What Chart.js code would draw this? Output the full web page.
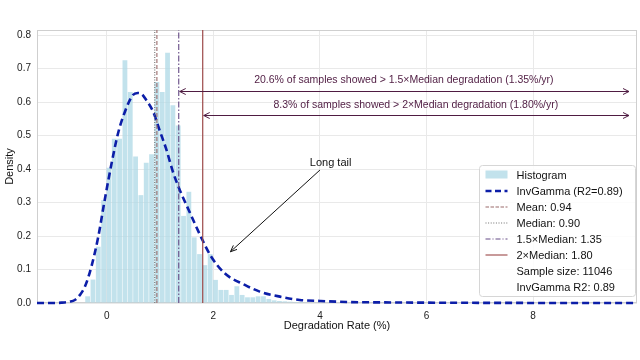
<!DOCTYPE html>
<html><head><meta charset="utf-8">
<script src="https://cdn.jsdelivr.net/npm/chart.js@4.4.0/dist/chart.umd.min.js"></script>
<style>html,body{margin:0;padding:0;background:#fff;}</style>
</head><body>
<canvas id="c" width="640" height="360"></canvas>
<script>
// ---- data ----
const binCenters = [-0.36,-0.26,-0.16,-0.06,0.04,0.14,0.24,0.34,0.44,0.54,0.64,0.74,0.84,0.94,1.04,1.14,1.24,1.34,1.44,1.54,1.64,1.74,1.84,1.94,2.04,2.14,2.24,2.34,2.44,2.54,2.64,2.74,2.84,2.94,3.04,3.14,3.24,3.34,3.44,3.54,3.64,3.74,3.84,3.94];
const density = [0.02,0.07,0.168,0.307,0.404,0.49,0.49,0.725,0.63,0.437,0.322,0.419,0.444,0.66,0.63,0.747,0.59,0.53,0.26,0.332,0.196,0.146,0.113,0.146,0.069,0.039,0.039,0.024,0.05,0.024,0.017,0.017,0.02,0.02,0.012,0.008,0.006,0.005,0.004,0.003,0.003,0.002,0.002,0.001];
const curveX = [-1.31,-1.0,-0.85,-0.7,-0.6,-0.5,-0.41,-0.29,-0.16,-0.04,0.09,0.21,0.34,0.49,0.58,0.66,0.74,0.87,0.99,1.12,1.24,1.37,1.53,1.78,1.96,2.21,2.59,2.87,3.25,3.62,4.0,4.5,5.0,6.0,7.0,8.0,9.95];
const curveY = [0,0,0.001,0.004,0.009,0.025,0.049,0.108,0.198,0.307,0.417,0.506,0.571,0.621,0.627,0.623,0.606,0.571,0.516,0.457,0.392,0.337,0.28,0.193,0.138,0.089,0.054,0.034,0.019,0.009,0.006,0.003,0.002,0.001,0.0005,0.0002,0];
const meanVal = 0.94, medianVal = 0.90, med15Val = 1.35, med2Val = 1.80;
const xTicks = [0,2,4,6,8];
const yTicks = [0,0.1,0.2,0.3,0.4,0.5,0.6,0.7,0.8];
const xRange = [-1.31, 9.95];
const yRange = [0, 0.815];
const arrowEndX = 9.8;
const arrow1Y = 0.634, arrow2Y = 0.561;
const text1Y = 0.666, text2Y = 0.592;
const annot1 = '20.6% of samples showed > 1.5×Median degradation (1.35%/yr)';
const annot2 = '8.3% of samples showed > 2×Median degradation (1.80%/yr)';
const tailText = 'Long tail';
const tailTextPos = [3.81, 0.418];
const tailFrom = [4.0, 0.397];
const tailTo = [2.32, 0.153];
const legendLabels = ['Histogram','InvGamma (R2=0.89)','Mean: 0.94','Median: 0.90','1.5×Median: 1.35','2×Median: 1.80','Sample size: 11046','InvGamma R2: 0.89'];

const FONT = 'Liberation Sans, Arial, sans-serif';
const barColor = 'rgba(173,216,230,0.75)';
const curveColor = '#0c1ea8';
const meanColor = '#9a6a6a';
const medianColor = '#707070';
const m15Color = '#654a85';
const m2Color = '#9c4848';
const annColor = '#4f1c42';

function vline(x, color, dash, label, width) {
  return {type:'line', label, data:[{x, y:0},{x, y:2}], borderColor:color, borderWidth:width||1.1,
          borderDash:dash, pointRadius:0, order:1, fill:false};
}

const overlay = {
  id:'overlay',
  beforeDatasetsDraw(chart){
    const {ctx, chartArea:a} = chart;
    ctx.save();
    ctx.strokeStyle = '#cfcfcf'; ctx.lineWidth = 1;
    ctx.strokeRect(a.left+0.5, a.top+0.5, a.right-a.left-1, a.bottom-a.top-1);
    ctx.restore();
  },
  afterDatasetsDraw(chart){
    const {ctx, chartArea:a} = chart;
    const xs = chart.scales.x, ys = chart.scales.y;
    const px = v => xs.getPixelForValue(v), py = v => ys.getPixelForValue(v);
    ctx.save();
    // double arrows
    function head(x, y, dir, color){
      ctx.beginPath();
      ctx.moveTo(x + dir*6, y - 3); ctx.lineTo(x, y); ctx.lineTo(x + dir*6, y + 3);
      ctx.strokeStyle = color; ctx.stroke();
    }
    function dbl(x0, x1, y){
      const X0 = px(x0)+1, X1 = px(x1), Y = Math.round(py(y))+0.5;
      ctx.strokeStyle = annColor; ctx.lineWidth = 1; ctx.setLineDash([]);
      ctx.beginPath(); ctx.moveTo(X0, Y); ctx.lineTo(X1, Y); ctx.stroke();
      head(X0, Y, 1, annColor); head(X1, Y, -1, annColor);
    }
    dbl(med15Val, arrowEndX, arrow1Y);
    dbl(med2Val, arrowEndX, arrow2Y);
    ctx.fillStyle = annColor;
    ctx.font = '10.5px ' + FONT;
    ctx.textAlign = 'center'; ctx.textBaseline = 'middle';
    ctx.fillText(annot1, px((med15Val+arrowEndX)/2), py(text1Y));
    ctx.fillText(annot2, px((med2Val+arrowEndX)/2), py(text2Y));
    // long tail arrow
    const fx = px(tailFrom[0]), fy = py(tailFrom[1]), tx = px(tailTo[0]), ty = py(tailTo[1]);
    ctx.strokeStyle = '#111'; ctx.lineWidth = 1;
    ctx.beginPath(); ctx.moveTo(fx, fy); ctx.lineTo(tx, ty); ctx.stroke();
    const ang = Math.atan2(ty-fy, tx-fx);
    ctx.beginPath();
    ctx.moveTo(tx - 7*Math.cos(ang-0.4), ty - 7*Math.sin(ang-0.4));
    ctx.lineTo(tx, ty);
    ctx.lineTo(tx - 7*Math.cos(ang+0.4), ty - 7*Math.sin(ang+0.4));
    ctx.stroke();
    ctx.fillStyle = '#111'; ctx.font = '11px ' + FONT; ctx.textAlign = 'left';
    ctx.fillText(tailText, px(tailTextPos[0]), py(tailTextPos[1]));
    // legend
    const bw = 156, bh = 131;
    const bx = a.right - bw - 1.5, by = a.bottom - bh - 6.5;
    ctx.beginPath();
    if (ctx.roundRect) ctx.roundRect(bx, by, bw, bh, 3); else ctx.rect(bx, by, bw, bh);
    ctx.fillStyle = 'rgba(255,255,255,0.85)'; ctx.fill();
    ctx.strokeStyle = '#d6d6d6'; ctx.lineWidth = 1; ctx.stroke();
    const sx = bx + 6, sw = 22, tx0 = bx + 37;
    ctx.font = '11px ' + FONT; ctx.textAlign = 'left'; ctx.textBaseline = 'middle';
    legendLabels.forEach((lab, i) => {
      const y = by + 9 + i*16;
      ctx.setLineDash([]);
      if (i === 0) { ctx.fillStyle = barColor; ctx.fillRect(sx, y-4, sw, 8); }
      else if (i <= 5) {
        const st = [null,[curveColor,[6,3.5],2.5],[meanColor,[3.5,1.5],1.1],[medianColor,[1,1.6],1.1],[m15Color,[5,2,1,2],1.1],[m2Color,[],1.1]][i];
        ctx.strokeStyle = st[0]; ctx.setLineDash(st[1]); ctx.lineWidth = st[2];
        ctx.beginPath(); ctx.moveTo(sx, y+0.5); ctx.lineTo(sx+sw, y+0.5); ctx.stroke();
      }
      ctx.setLineDash([]);
      ctx.fillStyle = '#111';
      ctx.fillText(lab, tx0, y+1);
    });
    ctx.restore();
  }
};

new Chart(document.getElementById('c'), {
  type:'bar',
  data:{
    datasets:[
      {type:'bar', label:'Histogram', data: binCenters.map((x,i)=>({x, y:density[i]})),
       backgroundColor: barColor, borderWidth:0, barPercentage:0.9, categoryPercentage:1.0, order:10},
      {type:'line', label:'InvGamma (R2=0.89)', data: curveX.map((x,i)=>({x, y:curveY[i]})),
       borderColor: curveColor, borderWidth:2.6, borderDash:[7,4], pointRadius:0, fill:false,
       cubicInterpolationMode:'monotone', order:5, clip:{left:0, right:0, top:0, bottom:4}},
      vline(meanVal, meanColor, [4,2], 'Mean'),
      vline(medianVal, medianColor, [1,1.5], 'Median'),
      vline(med15Val, m15Color, [6,2,1.5,2], '1.5×Median'),
      vline(med2Val, m2Color, [], '2×Median', 1.2)
    ]
  },
  options:{
    responsive:false, animation:false, devicePixelRatio:1,
    layout:{padding:{left:0, right:3, top:30, bottom:24}},
    plugins:{legend:{display:false}, tooltip:{enabled:false}},
    scales:{
      x:{type:'linear', min:xRange[0], max:xRange[1], offset:false,
         afterBuildTicks: s => { s.ticks = xTicks.map(v=>({value:v})); },
         afterFit: s => { s.height = 33; },
         grid:{color:'#e9e9e9', drawTicks:false, offset:false},
         border:{display:false},
         ticks:{padding:7, color:'#222', font:{family:FONT, size:10}, maxRotation:0, callback: v => String(v)},
         title:{display:true, text:'Degradation Rate (%)', color:'#111', font:{family:FONT, size:11}, padding:{top:2, bottom:3}}},
      y:{type:'linear', min:yRange[0], max:yRange[1],
         afterBuildTicks: s => { s.ticks = yTicks.map(v=>({value:v})); },
         afterFit: s => { s.width = 37; },
         grid:{color:'#e9e9e9', drawTicks:false},
         border:{display:false},
         ticks:{padding:6, color:'#222', font:{family:FONT, size:10}, callback: v => Number(v).toFixed(1)},
         title:{display:true, text:'Density', color:'#111', font:{family:FONT, size:11}, padding:{top:3, bottom:2}}}
    }
  },
  plugins:[overlay]
});
</script>
</body></html>
